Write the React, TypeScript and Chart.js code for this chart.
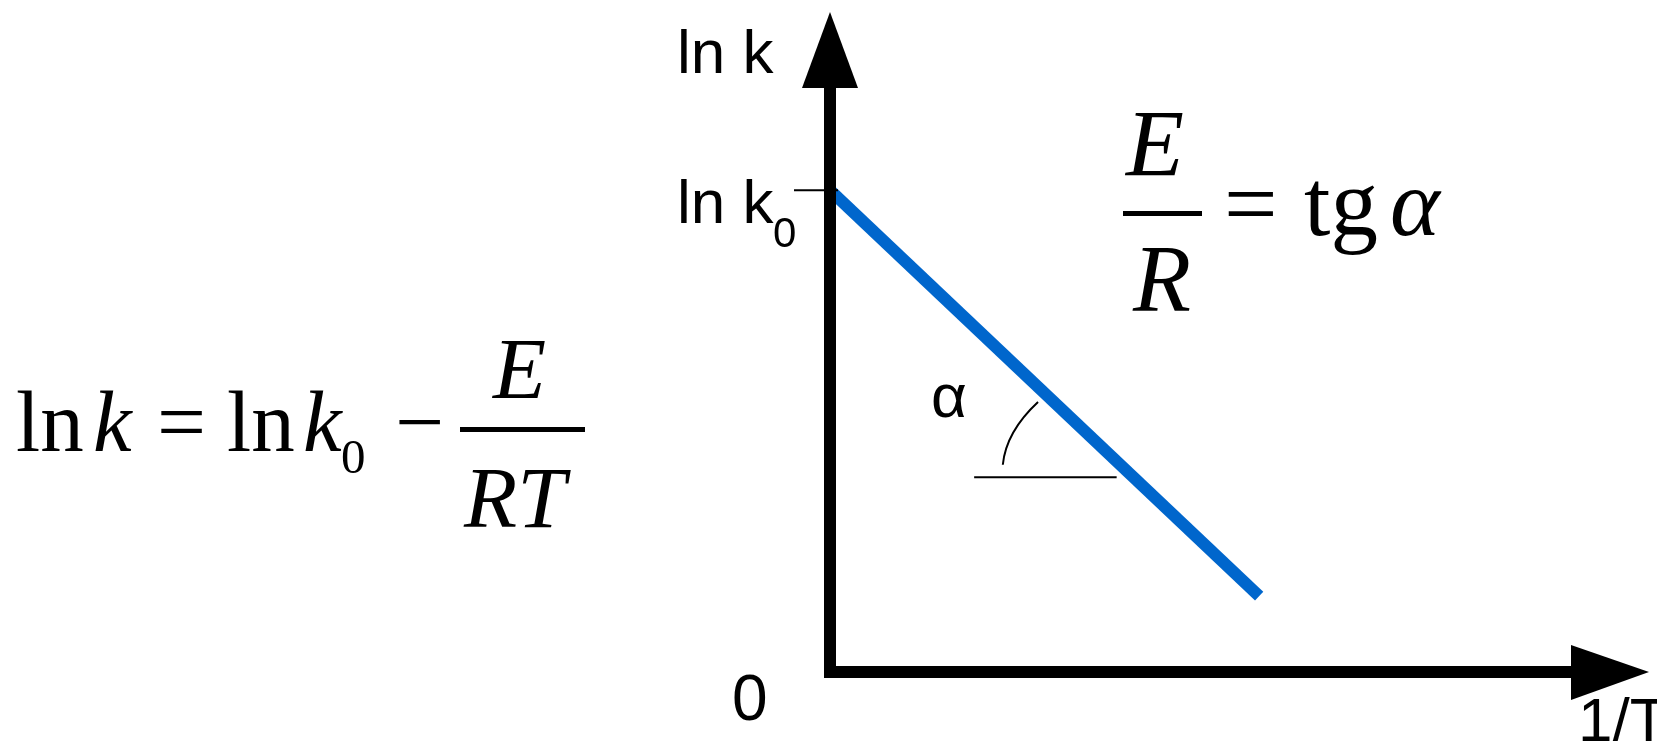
import React, { useEffect, useRef } from "react";
import { Chart, registerables } from "chart.js";

Chart.register(...registerables);

// Data (arbitrary units: x = 1/T, y = ln k)
const xValues = [0, 5.24];
const yValues = [7.3, 1.15];
const lnK0 = 7.3;
const xMax = 10;
const yMax = 10;

// Angle marker (data units)
const angleBaseX = [1.76, 3.5];
const angleBaseY = 2.95;
const arcStart = [2.11, 3.14];
const arcCtrl = [2.15, 3.64];
const arcEnd = [2.54, 4.09];

const SANS = '"Liberation Sans", Arial, Helvetica, sans-serif';
const SERIF = '"Liberation Serif", "Times New Roman", Times, serif';

const diagramPlugin = {
  id: "diagram",
  afterDatasetsDraw(chart: any) {
    const ctx = chart.ctx as CanvasRenderingContext2D;
    const xs = chart.scales.x;
    const ys = chart.scales.y;
    const x0 = xs.getPixelForValue(0);
    const y0 = ys.getPixelForValue(0);
    const xTip = xs.getPixelForValue(xMax);
    const yTip = ys.getPixelForValue(yMax);
    ctx.save();
    ctx.strokeStyle = "#000";
    ctx.fillStyle = "#000";
    ctx.lineCap = "butt";
    // axes
    ctx.lineWidth = 12;
    ctx.beginPath();
    ctx.moveTo(x0, y0 + 6);
    ctx.lineTo(x0, yTip + 74);
    ctx.stroke();
    ctx.beginPath();
    ctx.moveTo(x0 - 6, y0);
    ctx.lineTo(xTip - 76, y0);
    ctx.stroke();
    // arrow heads
    ctx.beginPath();
    ctx.moveTo(x0, yTip);
    ctx.lineTo(x0 - 28, yTip + 76);
    ctx.lineTo(x0 + 28, yTip + 76);
    ctx.closePath();
    ctx.fill();
    ctx.beginPath();
    ctx.moveTo(xTip, y0);
    ctx.lineTo(xTip - 78, y0 - 27);
    ctx.lineTo(xTip - 78, y0 + 28);
    ctx.closePath();
    ctx.fill();
    // ln k0 tick
    const yk = ys.getPixelForValue(lnK0);
    ctx.lineWidth = 2;
    ctx.beginPath();
    ctx.moveTo(x0 - 36, yk);
    ctx.lineTo(x0 + 8, yk);
    ctx.stroke();
    // angle marker
    ctx.lineWidth = 2;
    ctx.beginPath();
    ctx.moveTo(xs.getPixelForValue(angleBaseX[0]), ys.getPixelForValue(angleBaseY));
    ctx.lineTo(xs.getPixelForValue(angleBaseX[1]), ys.getPixelForValue(angleBaseY));
    ctx.stroke();
    ctx.beginPath();
    ctx.moveTo(xs.getPixelForValue(arcStart[0]), ys.getPixelForValue(arcStart[1]));
    ctx.quadraticCurveTo(
      xs.getPixelForValue(arcCtrl[0]), ys.getPixelForValue(arcCtrl[1]),
      xs.getPixelForValue(arcEnd[0]), ys.getPixelForValue(arcEnd[1])
    );
    ctx.stroke();

    // sans labels
    ctx.textAlign = "left";
    ctx.textBaseline = "alphabetic";
    ctx.font = `62px ${SANS}`;
    ctx.fillText("ln k", 677, 73);
    ctx.fillText("ln k", 677, 223);
    ctx.fillText("1/T", 1578, 741);
    ctx.font = `64px ${SANS}`;
    ctx.fillText("0", 732, 720);
    ctx.font = `62px ${SANS}`;
    ctx.fillText("α", 931, 417);
    ctx.font = `42px ${SANS}`;
    ctx.fillText("0", 773, 247);

    // left equation
    const F1 = 87;
    ctx.font = `${F1}px ${SERIF}`;
    ctx.fillText("ln", 16, 451);
    ctx.font = `italic ${F1}px ${SERIF}`;
    ctx.fillText("k", 93, 451);
    ctx.font = `${F1}px ${SERIF}`;
    ctx.fillText("=", 157, 451);
    ctx.fillText("ln", 227, 451);
    ctx.font = `italic ${F1}px ${SERIF}`;
    ctx.fillText("k", 303, 451);
    ctx.font = `49px ${SERIF}`;
    ctx.fillText("0", 341, 473);
    ctx.font = `${F1}px ${SERIF}`;
    ctx.fillText("\u2212", 395, 451);
    ctx.font = `italic ${F1}px ${SERIF}`;
    ctx.fillText("E", 493, 398);
    ctx.fillText("RT", 464, 527);
    ctx.fillRect(460, 427, 125, 5);

    // right equation
    const F2 = 95;
    ctx.font = `italic ${F2}px ${SERIF}`;
    ctx.fillText("E", 1126, 176);
    ctx.fillText("R", 1133, 311);
    ctx.fillRect(1123, 211, 79, 5);
    ctx.font = `${F2}px ${SERIF}`;
    ctx.fillText("=", 1224, 236);
    ctx.fillText("tg", 1304, 235);
    ctx.font = `italic ${F2}px ${SERIF}`;
    ctx.fillText("α", 1390, 235);
    ctx.restore();
  },
};

export default function App() {
  const ref = useRef<HTMLCanvasElement | null>(null);
  useEffect(() => {
    document.body.style.margin = "0";
    if (!ref.current) return;
    const chart = new Chart(ref.current, {
      type: "scatter",
      data: {
        datasets: [
          {
            data: xValues.map((x, i) => ({ x, y: yValues[i] })),
            showLine: true,
            borderColor: "#0066CC",
            borderWidth: 12,
            borderCapStyle: "butt",
            pointRadius: 0,
            pointHoverRadius: 0,
          } as any,
        ],
      },
      options: {
        responsive: false,
        animation: false,
        devicePixelRatio: 1,
        layout: { padding: { left: 830, right: 8, top: 12, bottom: 69 } },
        scales: {
          x: { type: "linear", min: 0, max: xMax, display: false },
          y: { type: "linear", min: 0, max: yMax, display: false },
        },
        plugins: { legend: { display: false }, tooltip: { enabled: false } },
      },
      plugins: [diagramPlugin],
    });
    let alive = true;
    const fonts: any = (document as any).fonts;
    if (fonts && fonts.load) {
      Promise.all([
        fonts.load('62px "Liberation Sans"', "ln k0α1/T"),
        fonts.load('87px "Liberation Serif"', "ln=0−tg"),
        fonts.load('italic 87px "Liberation Serif"', "kERTα"),
      ])
        .catch(() => {})
        .then(() => {
          if (alive) chart.update();
        });
    }
    return () => {
      alive = false;
      chart.destroy();
    };
  }, []);
  return (
    <div style={{ position: "fixed", left: 0, top: 0, width: 1657, height: 741, background: "#fff" }}>
      <canvas ref={ref} width={1657} height={741} />
    </div>
  );
}
